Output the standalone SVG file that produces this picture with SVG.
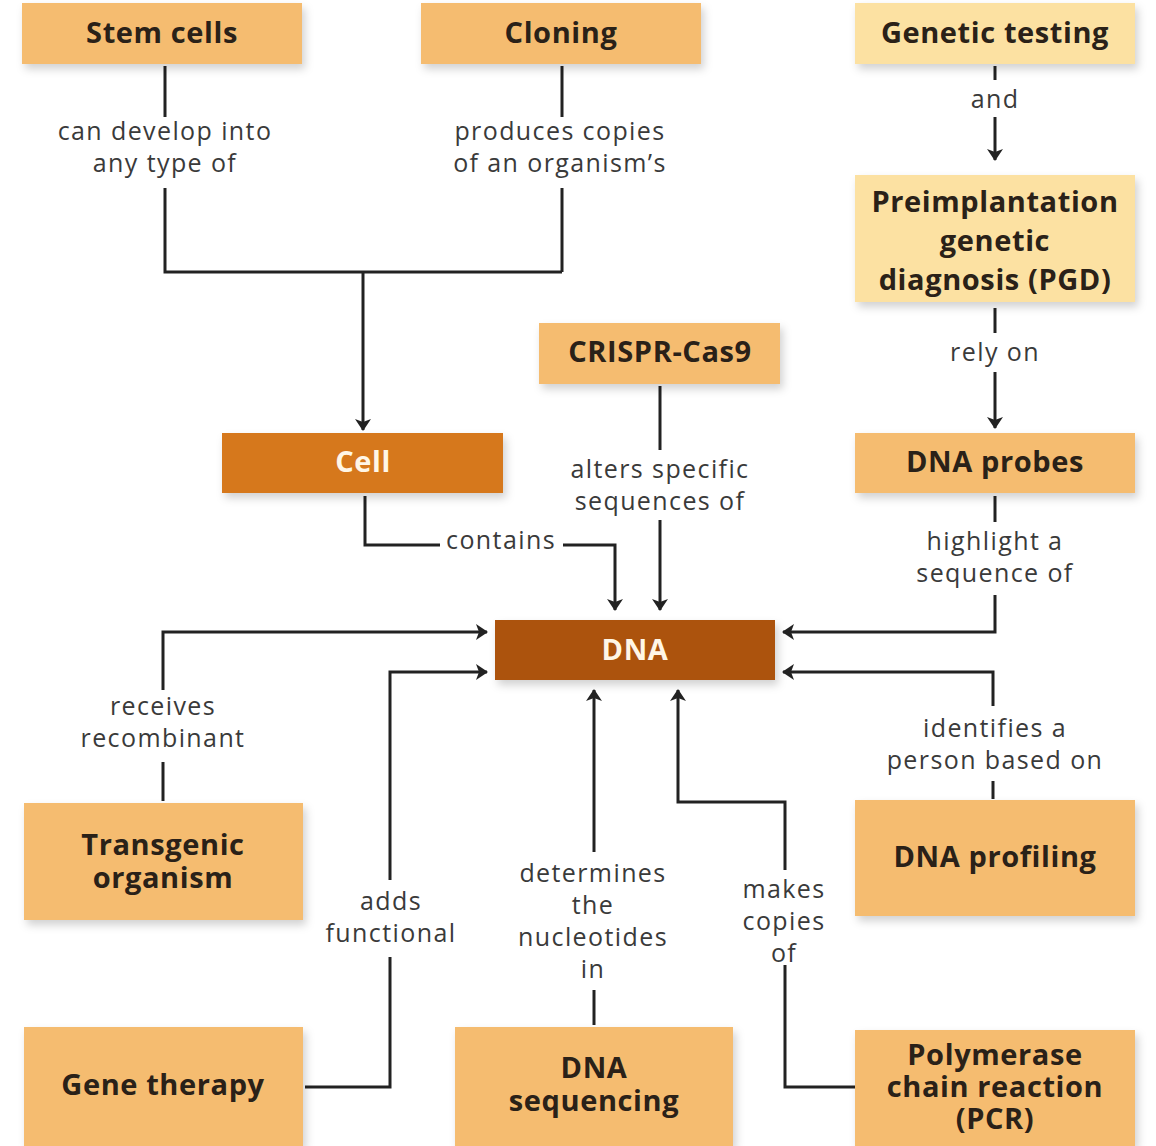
<svg xmlns="http://www.w3.org/2000/svg" width="1156" height="1146" viewBox="0 0 1156 1146">
<style>
.box{fill:#F5BC6F}
.pale{fill:#FCE1A2}
.cell{fill:#D6781F}
.dna{fill:#AC5210}
.nt{font-family:"Open Sans","Liberation Sans",sans-serif;font-weight:700;font-size:29px;letter-spacing:0.6px;fill:#2a2118;text-anchor:middle}
.wt{fill:#FFF6E6}
.lb{font-family:"Open Sans","Liberation Sans",sans-serif;font-size:25px;letter-spacing:1.4px;fill:#3a3a3a;text-anchor:middle}
.ln{fill:none;stroke:#222;stroke-width:3}
.ar{fill:none;stroke:#222;stroke-width:3;marker-end:url(#ah)}
</style>
<defs>
<filter id="sh" x="-10%" y="-20%" width="125%" height="150%">
<feDropShadow dx="3" dy="5" stdDeviation="4" flood-color="#000" flood-opacity="0.18"/>
</filter>
<marker id="ah" viewBox="0 0 12 24" refX="11" refY="12" markerWidth="12" markerHeight="24" markerUnits="userSpaceOnUse" orient="auto">
<path d="M0,4 L12,12 L0,20 L3,12 Z" fill="#222"/>
</marker>
</defs>
<rect width="1156" height="1146" fill="#fff"/>

<g id="connectors">
<path class="ln" d="M165,66 V117 M165,188 V272 H562 M562,66 V117 M562,188 V272"/>
<path class="ar" d="M363,272 V430"/>
<text class="lb" x="165" y="140">can develop into</text>
<text class="lb" x="165" y="172">any type of</text>
<text class="lb" x="560" y="140">produces copies</text>
<text class="lb" x="560" y="172">of an organism’s</text>

<path class="ln" d="M995,66 V80"/>
<path class="ar" d="M995,117 V160"/>
<text class="lb" x="995" y="108">and</text>

<path class="ln" d="M995,308 V333"/>
<path class="ar" d="M995,372 V428"/>
<text class="lb" x="995" y="361">rely on</text>

<path class="ln" d="M660,386 V450"/>
<path class="ar" d="M660,520 V610"/>
<text class="lb" x="660" y="478">alters specific</text>
<text class="lb" x="660" y="510">sequences of</text>

<path class="ln" d="M365,496 V545 H440"/>
<path class="ar" d="M563,545 H615 V610"/>
<text class="lb" x="501" y="549">contains</text>

<path class="ln" d="M995,496 V522"/>
<path class="ar" d="M995,595 V632 H783"/>
<text class="lb" x="995" y="550">highlight a</text>
<text class="lb" x="995" y="582">sequence of</text>

<path class="ln" d="M163,801 V762"/>
<path class="ar" d="M163,690 V632 H487"/>
<text class="lb" x="163" y="715">receives</text>
<text class="lb" x="163" y="747">recombinant</text>

<path class="ln" d="M305,1087 H390 V957"/>
<path class="ar" d="M390,880 V672 H487"/>
<text class="lb" x="391" y="910">adds</text>
<text class="lb" x="391" y="942">functional</text>

<path class="ln" d="M594,1025 V990"/>
<path class="ar" d="M594,852 V690"/>
<text class="lb" x="593" y="882">determines</text>
<text class="lb" x="593" y="914">the</text>
<text class="lb" x="593" y="946">nucleotides</text>
<text class="lb" x="593" y="978">in</text>

<path class="ln" d="M855,1087 H785 V965"/>
<path class="ar" d="M785,870 V802 H678 V690"/>
<text class="lb" x="784" y="898">makes</text>
<text class="lb" x="784" y="930">copies</text>
<text class="lb" x="784" y="962">of</text>

<path class="ln" d="M993,799 V781"/>
<path class="ar" d="M993,706 V672 H783"/>
<text class="lb" x="995" y="737">identifies a</text>
<text class="lb" x="995" y="769">person based on</text>
</g>

<g id="stem-cells"><rect class="box" filter="url(#sh)" x="22" y="3" width="280" height="61"/><text class="nt" x="162" y="43">Stem cells</text></g>
<g id="cloning"><rect class="box" filter="url(#sh)" x="421" y="3" width="280" height="61"/><text class="nt" x="561" y="43">Cloning</text></g>
<g id="genetic-testing"><rect class="pale" filter="url(#sh)" x="855" y="3" width="280" height="61"/><text class="nt" x="995" y="43">Genetic testing</text></g>
<g id="pgd"><rect class="pale" filter="url(#sh)" x="855" y="175" width="280" height="127"/><text class="nt" x="995" y="212">Preimplantation</text><text class="nt" x="995" y="251">genetic</text><text class="nt" x="995" y="290">diagnosis (PGD)</text></g>
<g id="crispr"><rect class="box" filter="url(#sh)" x="539" y="323" width="241" height="61"/><text class="nt" x="660" y="362">CRISPR-Cas9</text></g>
<g id="cell"><rect class="cell" filter="url(#sh)" x="222" y="433" width="281" height="60"/><text class="nt wt" x="363" y="472">Cell</text></g>
<g id="dna-probes"><rect class="box" filter="url(#sh)" x="855" y="433" width="280" height="60"/><text class="nt" x="995" y="472">DNA probes</text></g>
<g id="dna"><rect class="dna" filter="url(#sh)" x="495" y="620" width="280" height="60"/><text class="nt wt" x="635" y="660">DNA</text></g>
<g id="transgenic"><rect class="box" filter="url(#sh)" x="24" y="803" width="279" height="117"/><text class="nt" x="163" y="855">Transgenic</text><text class="nt" x="163" y="888">organism</text></g>
<g id="dna-profiling"><rect class="box" filter="url(#sh)" x="855" y="800" width="280" height="116"/><text class="nt" x="995" y="867">DNA profiling</text></g>
<g id="gene-therapy"><rect class="box" filter="url(#sh)" x="24" y="1027" width="279" height="119"/><text class="nt" x="163" y="1095">Gene therapy</text></g>
<g id="dna-sequencing"><rect class="box" filter="url(#sh)" x="455" y="1027" width="278" height="119"/><text class="nt" x="594" y="1078">DNA</text><text class="nt" x="594" y="1111">sequencing</text></g>
<g id="pcr"><rect class="box" filter="url(#sh)" x="855" y="1030" width="280" height="116"/><text class="nt" x="995" y="1065">Polymerase</text><text class="nt" x="995" y="1097">chain reaction</text><text class="nt" x="995" y="1129">(PCR)</text></g>
</svg>
